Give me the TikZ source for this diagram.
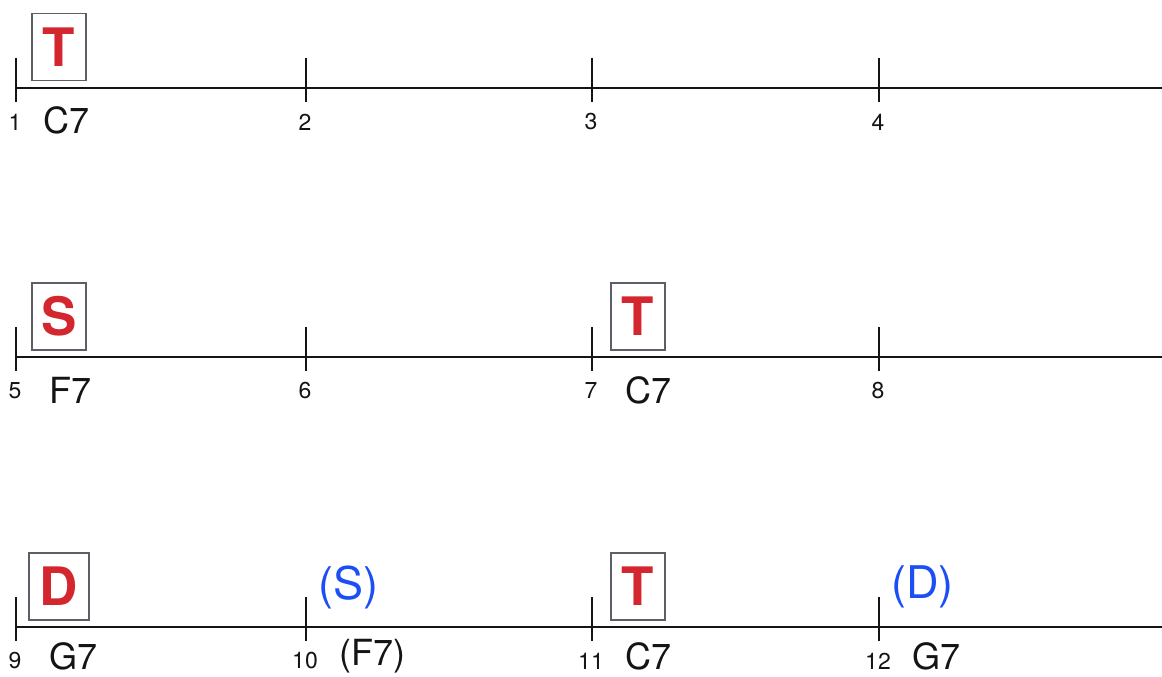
\documentclass[tikz,border=0pt]{standalone}
\usepackage{fontspec}
\setmainfont{TeX Gyre Heros}
\usetikzlibrary{positioning}
\definecolor{colTonic}{RGB}{212, 38, 46}
\definecolor{colImplied}{RGB}{28, 78, 245}
\definecolor{boxFrame}{RGB}{92, 96, 102}
\definecolor{darkText}{RGB}{20, 20, 20}

\begin{document}
\begin{tikzpicture}[x=1pt, y=-1pt]

  % Page frame (1 unit = 1 px of the reference)
  \useasboundingbox (0,0) rectangle (1162,677);

  % Helper styles
  \tikzset{
    barline/.style={line width=2.2pt, draw=darkText},
    funcbox/.style={
      draw=boxFrame, line width=1.5pt, text=colTonic,
      font=\fontsize{53}{53}\selectfont\bfseries,
      minimum width=54pt, minimum height=67pt, inner sep=0pt,
      anchor=north west
    },
    implied/.style={text=colImplied, font=\fontsize{45}{45}\selectfont,
      inner sep=0pt, anchor=west},
    chord/.style={text=darkText, font=\fontsize{36}{36}\selectfont,
      inner sep=0pt, anchor=west},
    barnum/.style={text=darkText, font=\fontsize{23}{23}\selectfont,
      inner sep=0pt}
  }

  % --- Three lines of four bars each ---
  \foreach \row/\ly in {0/88, 1/357, 2/627} {
    \draw[barline] (16,\ly) -- (1162,\ly);
    \foreach \col/\tx in {0/16, 1/306, 2/592, 3/879} {
      \pgfmathtruncatemacro{\barno}{4*\row+\col+1}
      \coordinate (t\barno) at (\tx,\ly);
      \draw[barline] (\tx,\ly-30) -- (\tx,\ly+14);
      \node[barnum] (n\barno) at (\tx-1,\ly+34) {\barno};
    }
  }

  % Functions (boxed)
  \node[funcbox] (f1)  at (31,13)   {T};
  \node[funcbox] (f5)  at (31,282)  {S};
  \node[funcbox] (f7)  at (610,282) {T};
  \node[funcbox, minimum width=60pt] (f9) at (28,552) {D};
  \node[funcbox] (f11) at (610,552) {T};

  % Implied functions
  \node[implied] (f10) at (318,587) {(S)};
  \node[implied] (f12) at (891,587) {(D)};

  % Chord symbols
  \node[chord] (c1)  at (43,120)  {C7};
  \node[chord] (c5)  at (49,390)  {F7};
  \node[chord] (c7)  at (625,390) {C7};
  \node[chord] (c9)  at (49,656)  {G7};
  \node[chord] (c10) at (339,656) {(F7)};
  \node[chord] (c11) at (625,656) {C7};
  \node[chord] (c12) at (912,656) {G7};

\end{tikzpicture}
\end{document}
